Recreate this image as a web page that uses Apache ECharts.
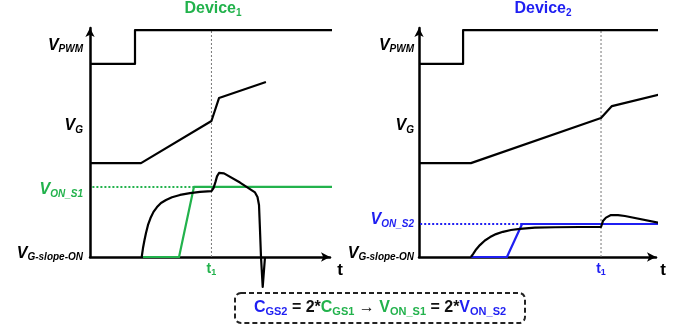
<!DOCTYPE html>
<html><head><meta charset="utf-8">
<script src="https://cdn.jsdelivr.net/npm/echarts@6/dist/echarts.min.js"></script>
<style>html,body{margin:0;padding:0;background:#fff}#c{width:690px;height:334px}</style>
</head><body><div id="c"></div>
<script>
// ---------- data (normalised units: t 0..100, V 0..100) ----------
const T1_LEFT = 50.6;
const T1_RIGHT = 76.8;
// Device1
const d1_vpwm = [[0,84.3],[18.75,84.3],[18.75,99.1],[102.9,99.1]];
const d1_vg = [[0,41.0],[21.25,41.0],[50.6,59.4],[53.75,69.4],[73.3,76.4]];
const d1_von_ref = [[1,30.6],[43.3,30.6]];
const d1_von = [[22.1,0],[37.1,0],[43.3,30.6],[104.2,30.6]];
const d1_vgs = [[21.54,0],[22.08,3.9],[22.71,7.4],[23.33,10.5],[24.17,14.0],[25.21,17.0],[26.46,19.7],[27.92,21.8],
  [29.58,23.6],[31.67,24.9],[34.17,26.1],[37.5,27.1],[41.67,27.9],[45.83,28.4],[50.6,28.8],
  [51.46,30.1],[52.29,32.8],[52.92,35.2],[53.75,36.7],[54.58,36.9],[55.83,36.5],[62.5,32.5],[68.75,28.2],
  [69.79,26.2],[70.42,22.7],[70.83,11.8],[71.25,0],[71.96,-13.1],[72.5,-5.7],[72.92,0]];
const d1_t1 = [[T1_LEFT,0],[T1_LEFT,99.1]];
// Device2
const d2_vpwm = [[0,84.3],[18.6,84.3],[18.6,99.1],[103.8,99.1]];
const d2_vg = [[0,41.0],[21.9,41.0],[76.8,60.7],[81.4,65.9],[103.8,71.6]];
const d2_von_ref = [[0.5,14.4],[43.5,14.4]];
const d2_von = [[21.9,0],[37.1,0],[43.5,14.4],[103.8,14.4]];
const d2_vgs = [[21.9,0],[22.8,1.3],[24.1,3.3],[25.7,5.2],[27.8,7.2],[30.0,8.7],[32.5,10.0],[35.4,11.0],[38.8,11.8],
  [42.6,12.3],[48.9,12.8],[57.4,13.0],[67.9,13.1],[76.8,13.1],
  [77.6,15.7],[78.9,17.2],[81.0,18.3],[84.0,18.3],[86.9,17.9],[103.8,14.4]];
const d2_t1 = [[T1_RIGHT,0],[T1_RIGHT,99.1]];
// tick label positions
const yTicksLeft = [1.7, 29.3, 57.5, 92.5];
const yTicksRight = [1.7, 16.2, 57.5, 92.5];
const yLabelsLeft = ['{v|V}{s|G-slope-ON}', '{gv|V}{gs|ON_S1}', '{v|V}{s|G}', '{v|V}{s|PWM}'];
const yLabelsRight = ['{v|V}{s|G-slope-ON}', '{bv|V}{bs|ON_S2}', '{v|V}{s|G}', '{v|V}{s|PWM}'];

const GREEN = '#22b24c', BLUE = '#1f1ff2', BLACK = '#000';
const FF = 'Liberation Sans, Arial, sans-serif';

function big(c){return {fontSize:16,fontWeight:'bold',fontStyle:'italic',color:c,fontFamily:FF};}
function sub(c){return {fontSize:10,fontWeight:'bold',fontStyle:'italic',color:c,fontFamily:FF,padding:[9,0,0,0]};}
const yRich = {v:big(BLACK), s:sub(BLACK), gv:big(GREEN), gs:sub(GREEN), bv:big(BLUE), bs:sub(BLUE)};

function xAxisDef(idx, t1, color, gap){
  return {
    gridIndex: idx, type:'value', min:0, max:100,
    axisLine:{show:true, onZero:false, symbol:['none','arrow'], symbolSize:[7,9], lineStyle:{color:BLACK,width:2.5}},
    axisTick:{show:false}, splitLine:{show:false},
    axisLabel:{customValues:[t1], margin:4, formatter:()=>'{t|t}{s|1}',
      rich:{t:{fontSize:14,fontWeight:'bold',color:color,fontFamily:FF},
            s:{fontSize:9,fontWeight:'bold',color:color,fontFamily:FF,padding:[7,0,0,0]}}},
    name:'t', nameLocation:'end', nameGap:gap,
    nameTextStyle:{fontSize:17,fontWeight:'bold',color:BLACK,fontFamily:FF,align:'center',verticalAlign:'top',padding:[5,0,0,0]}
  };
}
function yAxisDef(idx, ticks, labels, margin){
  return {
    gridIndex: idx, type:'value', min:0, max:100,
    axisLine:{show:true, onZero:false, symbol:['none','arrow'], symbolSize:[7,9], lineStyle:{color:BLACK,width:2.5}},
    axisTick:{show:false}, splitLine:{show:false},
    axisLabel:{customValues:ticks, margin:margin, rich:yRich,
      formatter:(v)=>{let k=0,b=1e9;ticks.forEach((t,i)=>{if(Math.abs(t-v)<b){b=Math.abs(t-v);k=i;}});return labels[k];}}
  };
}
function line(idx, data, color, opts){
  return Object.assign({type:'line', xAxisIndex:idx, yAxisIndex:idx, data:data, showSymbol:false, symbol:'none',
    clip:false, silent:true, lineStyle:{color:color,width:2.2,join:'round'}}, opts||{});
}
function gtxt(c, size, pad){
  const o = {fontSize:size,fontWeight:'bold',fill:c,fontFamily:FF};
  if (pad) o.padding = [pad,0,0,0];
  return o;
}

const chart = echarts.init(document.getElementById('c'), null, {renderer:'canvas'});
chart.setOption({
  animation:false,
  backgroundColor:'#fff',
  textStyle:{fontFamily:FF},
  grid:[{left:90, top:28, width:240, height:229},{left:419, top:28, width:237, height:229}],
  xAxis:[xAxisDef(0, T1_LEFT, GREEN, 10), xAxisDef(1, T1_RIGHT, BLUE, 7)],
  yAxis:[yAxisDef(0, yTicksLeft, yLabelsLeft, 7), yAxisDef(1, yTicksRight, yLabelsRight, 5)],
  series:[
    line(0, d1_t1, '#777', {lineStyle:{color:'#777',width:1,type:[2,2]}}),
    line(0, d1_vpwm, BLACK),
    line(0, d1_vg, BLACK),
    line(0, d1_von_ref, GREEN, {lineStyle:{color:GREEN,width:2,type:[2,2]}}),
    line(0, d1_von, GREEN),
    line(0, d1_vgs, BLACK),
    line(1, d2_t1, '#777', {lineStyle:{color:'#777',width:1,type:[2,2]}}),
    line(1, d2_vpwm, BLACK),
    line(1, d2_vg, BLACK),
    line(1, d2_von_ref, BLUE, {lineStyle:{color:BLUE,width:2,type:[2,2]}}),
    line(1, d2_von, BLUE),
    line(1, d2_vgs, BLACK)
  ],
  graphic:[
    {type:'text', x:213, y:0, silent:true, style:{text:'{a|Device}{b|1}', align:'center', verticalAlign:'top',
      rich:{a:gtxt(GREEN,16), b:gtxt(GREEN,10,8)}}},
    {type:'text', x:543, y:0, silent:true, style:{text:'{a|Device}{b|2}', align:'center', verticalAlign:'top',
      rich:{a:gtxt(BLUE,16), b:gtxt(BLUE,10,8)}}},
    {type:'rect', silent:true, shape:{x:235,y:293,width:290,height:30,r:6},
      style:{fill:'none', stroke:'#222', lineWidth:2, lineDash:[5,3]}},
    {type:'text', x:380, y:308, silent:true, style:{
      text:'{bc|C}{bs|GS2}{k| = 2*}{gc|C}{gs|GS1}{k| \u2192 }{gc|V}{gs|ON_S1}{k| = 2*}{bc|V}{bs|ON_S2}',
      align:'center', verticalAlign:'middle',
      rich:{ k:gtxt('#111',16), bc:gtxt(BLUE,16), gc:gtxt(GREEN,16), bs:gtxt(BLUE,11,8), gs:gtxt(GREEN,11,8) }}}
  ]
});
</script>
</body></html>
